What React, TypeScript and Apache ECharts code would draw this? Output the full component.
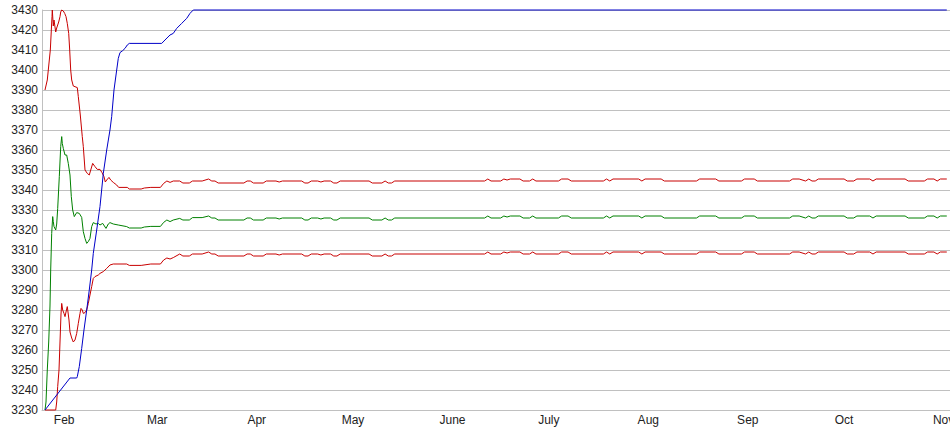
import React, { useEffect, useRef } from "react";
import * as echarts from "echarts";

// x values are day-of-year (Jan 1 = 0, leap year); y values
const monthDays = [31, 60, 91, 121, 152, 182, 213, 244, 274, 305];
const monthLabels = ["Feb", "Mar", "Apr", "May", "June", "July", "Aug", "Sep", "Oct", "Nov"];

const redUpper: [number, number][] = [
  [25.03, 3390], [25.75, 3395], [26.69, 3410], [27.22, 3426.7], [27.31, 3430], [27.62, 3422], [27.84, 3425],
  [28.37, 3419], [28.68, 3421], [28.99, 3422.5], [29.3, 3424], [29.71, 3426.7], [29.93, 3429], [30.24, 3430],
  [30.74, 3429.5], [31.17, 3428.3], [31.58, 3426.7], [31.98, 3423.3], [32.42, 3418.3], [32.73, 3410], [33.04, 3400],
  [33.35, 3395], [33.85, 3392], [35.1, 3391.2], [35.41, 3386.7], [36.03, 3377.5], [36.65, 3366.7], [36.97, 3361.7],
  [37.5, 3350], [38.21, 3348.3], [38.83, 3347.5], [39.89, 3353.3], [40.61, 3351.7], [41.33, 3350.3], [42.17, 3350.3],
  [42.79, 3348.7], [43.41, 3346.7], [43.82, 3344], [44.26, 3345], [44.97, 3346.3], [45.5, 3345], [46.31, 3343.8],
  [47.37, 3342.5], [47.99, 3341.3], [50.67, 3341.3], [51.3, 3340.5], [55, 3340.5], [56, 3341], [58, 3341.3],
  [61, 3341.3], [62, 3343.3], [63, 3344.5], [64, 3343.8], [65, 3344.5], [67, 3344.5], [68, 3343.5], [70, 3343.5],
  [71, 3344.5], [74, 3344.5], [76, 3345.5], [77, 3344.5], [78, 3344.5], [79, 3343.5], [87, 3343.5], [88, 3344.5],
  [89, 3344.5], [90, 3343.5], [93, 3343.5], [94, 3344.5], [97, 3344.5], [98, 3344], [99, 3344.5], [105, 3344.5],
  [106, 3343.5], [107, 3343.5], [108, 3344.5], [110, 3344.5], [111, 3344], [112, 3344.5], [114, 3344.5],
  [115, 3343.5], [116, 3343.5], [117, 3344.5], [126, 3344.5], [127, 3343.5], [130, 3343.5], [131, 3344.5],
  [132, 3343.5], [133, 3343.5], [134, 3344.5], [162, 3344.5], [163, 3345.5], [164, 3344.5], [167, 3344.5],
  [168, 3345.5], [169, 3345], [170, 3345.5], [173, 3345.5], [174, 3344.5], [176, 3344.5], [177, 3345.5],
  [178, 3344.5], [185, 3344.5], [186, 3345.5], [188, 3345.5], [189, 3344.5], [199, 3344.5], [200, 3345.5],
  [201, 3344.5], [202, 3345.5], [210, 3345.5], [211, 3344.5], [212, 3345.5], [217, 3345.5], [218, 3344.5],
  [228, 3344.5], [229, 3345.5], [234, 3345.5], [235, 3344.5], [242, 3344.5], [243, 3345.5], [246, 3345.5],
  [247, 3344.5], [257, 3344.5], [258, 3345.5], [260, 3345.5], [262, 3344.5], [263, 3345.5], [264, 3344.5],
  [265, 3344.5], [266, 3345.5], [274, 3345.5], [275, 3344.5], [277, 3344.5], [278, 3345.5], [282, 3345.5],
  [283, 3344.5], [284, 3345.5], [293, 3345.5], [294, 3344.5], [299, 3344.5], [300, 3345.5], [302, 3345.5],
  [303, 3344.5], [304, 3345.5], [306, 3345.5],
];

const greenMid: [number, number][] = [
  [25.03, 3230], [25.35, 3234], [25.75, 3250], [26.19, 3264], [26.59, 3282], [26.81, 3300], [27.12, 3318.3],
  [27.43, 3326.7], [27.62, 3324.2], [27.84, 3321.7], [28.37, 3320], [28.68, 3323], [28.99, 3330.8], [29.49, 3346.7],
  [29.93, 3361.7], [30.24, 3366.7], [30.42, 3363.3], [30.74, 3360.8], [31.27, 3357.5], [31.79, 3357.5],
  [32.29, 3353.3], [32.82, 3347.5], [33.23, 3336.7], [33.66, 3330], [34.16, 3326.7], [34.91, 3328.7],
  [35.72, 3328.3], [36.47, 3326.3], [36.97, 3319.2], [37.5, 3315.8], [38.03, 3313.3], [38.52, 3314.2],
  [39.05, 3315.8], [39.58, 3321.7], [40.08, 3323.7], [40.92, 3323], [41.64, 3323.3], [42.17, 3322.5],
  [43.01, 3323.3], [44.04, 3320.8], [44.75, 3323], [45.28, 3323.7], [46.31, 3323], [47.87, 3322.5],
  [50.49, 3321.7], [51.3, 3321], [55, 3321], [56, 3321.5], [58, 3321.8], [61, 3321.8], [62, 3323.8], [63, 3325],
  [64, 3324.2], [65, 3325], [67, 3325.8], [68, 3325], [70, 3325], [71, 3326.2], [74, 3326.2], [76, 3327],
  [77, 3326], [78, 3326], [79, 3325], [87, 3325], [88, 3326], [89, 3326], [90, 3325], [93, 3325], [94, 3326],
  [97, 3326], [98, 3325.5], [99, 3326], [105, 3326], [106, 3325], [107, 3325], [108, 3326], [110, 3326],
  [111, 3325.5], [112, 3326], [114, 3326], [115, 3325], [116, 3325], [117, 3326], [126, 3326], [127, 3325],
  [130, 3325], [131, 3326], [132, 3325], [133, 3325], [134, 3326], [162, 3326], [163, 3327], [164, 3326],
  [167, 3326], [168, 3327], [169, 3326.5], [170, 3327], [173, 3327], [174, 3326], [176, 3326], [177, 3327],
  [178, 3326], [185, 3326], [186, 3327], [188, 3327], [189, 3326], [199, 3326], [200, 3327], [201, 3326],
  [202, 3327], [210, 3327], [211, 3326], [212, 3327], [217, 3327], [218, 3326], [228, 3326], [229, 3327],
  [234, 3327], [235, 3326], [242, 3326], [243, 3327], [246, 3327], [247, 3326], [257, 3326], [258, 3327],
  [260, 3327], [262, 3326], [263, 3327], [264, 3326], [265, 3326], [266, 3327], [274, 3327], [275, 3326],
  [277, 3326], [278, 3327], [282, 3327], [283, 3326], [284, 3327], [293, 3327], [294, 3326], [299, 3326],
  [300, 3327], [302, 3327], [303, 3326], [304, 3327], [306, 3327],
];

const redLower: [number, number][] = [
  [25.03, 3230], [28.37, 3230], [28.68, 3234], [28.99, 3241.7], [29.4, 3250], [29.71, 3264], [30.02, 3278],
  [30.24, 3283.3], [30.55, 3280], [30.95, 3278.3], [31.27, 3276.7], [31.58, 3279], [31.98, 3281.7], [32.2, 3279],
  [32.51, 3275], [32.82, 3269], [33.35, 3266], [33.85, 3264], [34.38, 3265], [34.91, 3268.3], [35.41, 3273.3],
  [35.94, 3278.3], [36.25, 3280.8], [36.65, 3280], [36.97, 3278.3], [37.5, 3278.7], [38.03, 3280],
  [38.52, 3283.3], [39.05, 3287.5], [39.58, 3291.7], [40.08, 3295.8], [40.61, 3296.7], [41.64, 3297.5],
  [42.17, 3298.3], [43.2, 3299.2], [44.26, 3300.8], [45.28, 3302.5], [46.31, 3303], [50.49, 3303],
  [51.3, 3302.3], [55, 3302.3], [58, 3303], [61, 3303], [62, 3305], [63, 3306], [64, 3305.5], [65, 3306.2],
  [67, 3308], [68, 3307], [70, 3307], [71, 3308], [74, 3308], [76, 3309], [77, 3308], [78, 3308], [79, 3307],
  [87, 3307], [88, 3308], [89, 3308], [90, 3307], [93, 3307], [94, 3308], [97, 3308], [98, 3307.5], [99, 3308],
  [105, 3308], [106, 3307], [107, 3307], [108, 3308], [110, 3308], [111, 3307.5], [112, 3308], [114, 3308],
  [115, 3307], [116, 3307], [117, 3308], [126, 3308], [127, 3307], [130, 3307], [131, 3308], [132, 3307],
  [133, 3307], [134, 3308], [162, 3308], [163, 3309], [164, 3308], [167, 3308], [168, 3309], [169, 3308.5],
  [170, 3309], [173, 3309], [174, 3308], [176, 3308], [177, 3309], [178, 3308], [185, 3308], [186, 3309],
  [188, 3309], [189, 3308], [199, 3308], [200, 3309], [201, 3308], [202, 3309], [210, 3309], [211, 3308],
  [212, 3309], [217, 3309], [218, 3308], [228, 3308], [229, 3309], [234, 3309], [235, 3308], [242, 3308],
  [243, 3309], [246, 3309], [247, 3308], [257, 3308], [258, 3309], [260, 3309], [262, 3308], [263, 3309],
  [264, 3308], [265, 3308], [266, 3309], [274, 3309], [275, 3308], [277, 3308], [278, 3309], [282, 3309],
  [283, 3308], [284, 3309], [293, 3309], [294, 3308], [299, 3308], [300, 3309], [302, 3309], [303, 3308],
  [304, 3309], [306, 3309],
];

const blueCum: [number, number][] = [
  [25.03, 3230], [32.82, 3246], [34.91, 3246], [35.1, 3246.7], [35.72, 3251.7], [36.47, 3260.8], [37.18, 3270],
  [38.03, 3280], [38.83, 3290], [39.58, 3300], [40.08, 3308.3], [41.14, 3320], [42.17, 3331.7], [43.2, 3348.3],
  [44.26, 3360], [45.28, 3370], [45.81, 3376.7], [46.53, 3390], [47.37, 3400], [47.87, 3405.8], [48.4, 3408.7],
  [49.24, 3409.7], [49.96, 3410.8], [50.67, 3412.5], [51.3, 3413.3], [61.39, 3413.3], [62.42, 3415],
  [63.98, 3417.5], [65.0, 3418.3], [66.06, 3420.8], [67.62, 3423.3], [69.18, 3425.8], [70.21, 3428.3],
  [71.23, 3430], [306, 3430],
];

const FONT = "'Liberation Sans', Arial, sans-serif";

export default function App() {
  const ref = useRef<HTMLDivElement>(null);
  useEffect(() => {
    if (!ref.current) return;
    const chart = echarts.init(ref.current, null, { renderer: "svg" });
    const mk = (name: string, data: [number, number][], color: string) => ({
      name,
      type: "line",
      data,
      showSymbol: false,
      symbol: "none",
      clip: false,
      lineStyle: { width: 1, color },
      itemStyle: { color },
    });
    chart.setOption({
      animation: false,
      backgroundColor: "#ffffff",
      grid: { left: 42, right: 0, top: 10, bottom: 25, containLabel: false, outerBoundsMode: "none" },
      xAxis: {
        type: "value",
        min: 24.1,
        max: 307.0,
        splitLine: { show: false },
        axisTick: { show: false },
        axisLine: { show: true, lineStyle: { color: "#c0c0c0", width: 1 } },
        axisLabel: {
          customValues: monthDays,
          formatter: (v: number) => {
            const i = monthDays.indexOf(Math.round(v));
            return i >= 0 ? monthLabels[i] : "";
          },
          color: "#222",
          fontFamily: FONT,
          fontSize: 12,
          margin: 4,
        },
      },
      yAxis: {
        type: "value",
        min: 3230,
        max: 3430,
        interval: 10,
        axisTick: { show: false },
        axisLine: { show: true, lineStyle: { color: "#c0c0c0", width: 1 } },
        splitLine: { show: true, lineStyle: { color: "#c0c0c0", width: 1 } },
        axisLabel: {
          color: "#222",
          fontFamily: FONT,
          fontSize: 12,
          margin: 4,
          formatter: (v: number) => String(v),
        },
      },
      series: [
        mk("upper", redUpper, "#c80000"),
        mk("mid", greenMid, "#008000"),
        mk("lower", redLower, "#c80000"),
        mk("cum", blueCum, "#0000c8"),
      ],
    });
    return () => chart.dispose();
  }, []);
  return (
    <div
      ref={ref}
      style={{ position: "absolute", left: 0, top: 0, width: 950, height: 435, background: "#fff" }}
    />
  );
}
